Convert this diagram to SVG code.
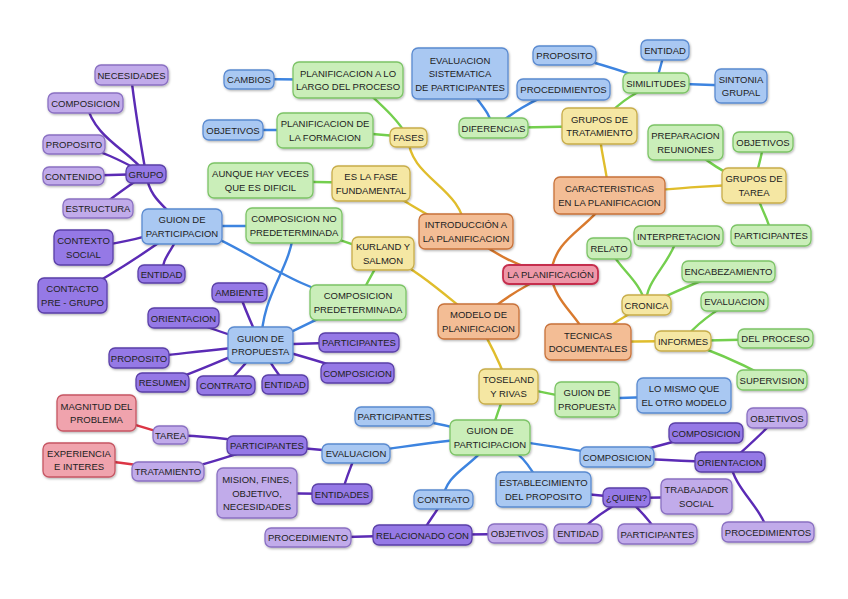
<svg xmlns="http://www.w3.org/2000/svg" width="848" height="599" viewBox="0 0 848 599">
<defs>
<filter id="sh" x="-10%" y="-10%" width="130%" height="140%"><feDropShadow dx="0.8" dy="1.2" stdDeviation="0.8" flood-color="#000" flood-opacity="0.3"/></filter>
<style>
rect{rx:6;ry:6;stroke-width:1.3;filter:url(#sh)}
.b rect{fill:#a9c8f2;stroke:#5a8ad0}
.g rect{fill:#caeeb9;stroke:#7cc466}
.y rect{fill:#f5e7a3;stroke:#c8ad4a}
.o rect{fill:#f3bd95;stroke:#c8723a}
.p rect{fill:#9579e6;stroke:#5a3fa8}
.lp rect{fill:#c1abea;stroke:#8a70c2}
.r rect{fill:#ee98a9;stroke:#c52e4e;stroke-width:1.8}
.pk rect{fill:#f0a3ad;stroke:#c65663}
text{font-family:"Liberation Sans",Arial,sans-serif;font-size:9.5px;fill:#222;text-anchor:middle}
#edges path{fill:none;stroke-width:2.4;stroke-linecap:round}
.eo{stroke:#d97a2e}.ey{stroke:#e0bd2c}.eg{stroke:#74cf4e}.eb{stroke:#3d84e0}.ep{stroke:#5b2bb5}.er{stroke:#dc3545}
</style>
</defs>
<rect x="0" y="0" width="848" height="599" fill="#ffffff" style="filter:none;rx:0"/>
<g id="edges">
<path class="eo" d="M551,274 C520,268 495,255 466,232"/>
<path class="eo" d="M551,274 C555,235 590,230 609,195"/>
<path class="eo" d="M551,274 C525,285 500,300 478,321"/>
<path class="eo" d="M551,274 C555,305 580,315 588,342"/>
<path class="ey" d="M466,232 C462,185 410,180 408,137"/>
<path class="ey" d="M466,232 C420,215 400,195 371,183"/>
<path class="ey" d="M609,195 C606,165 600,150 599,126"/>
<path class="ey" d="M609,195 C660,190 700,185 754,185"/>
<path class="ey" d="M588,342 C610,325 625,315 646,305"/>
<path class="ey" d="M588,342 L683,341"/>
<path class="ey" d="M478,321 C450,300 420,270 383,254"/>
<path class="ey" d="M478,321 C490,345 500,360 508,386"/>
<path class="eg" d="M408,137 C395,115 375,100 360,85"/>
<path class="eg" d="M408,137 L325,130"/>
<path class="eg" d="M371,183 L260,181"/>
<path class="eg" d="M599,126 L493,128"/>
<path class="eg" d="M599,126 C615,105 630,95 656,83"/>
<path class="eg" d="M754,185 C725,175 705,160 685,143"/>
<path class="eg" d="M754,185 C758,165 763,155 763,142"/>
<path class="eg" d="M754,185 C760,210 770,220 771,235"/>
<path class="eg" d="M646,305 C640,280 620,270 609,248"/>
<path class="eg" d="M646,305 C645,280 670,265 678,236"/>
<path class="eg" d="M646,305 C680,290 700,280 728,271"/>
<path class="eg" d="M683,341 C695,325 715,310 734,301"/>
<path class="eg" d="M683,341 L775,339"/>
<path class="eg" d="M683,341 C710,350 745,365 772,380"/>
<path class="eg" d="M383,254 C350,245 330,235 294,226"/>
<path class="eg" d="M383,254 C375,270 365,285 358,302"/>
<path class="eg" d="M508,386 C540,390 560,398 587,399"/>
<path class="eg" d="M508,386 C500,405 495,420 490,437"/>
<path class="eb" d="M348,80 L249,79"/>
<path class="eb" d="M325,130 L233,130"/>
<path class="eb" d="M493,128 C490,110 475,100 460,74"/>
<path class="eb" d="M493,128 C510,115 530,100 563,89"/>
<path class="eb" d="M656,83 C620,70 590,60 565,56"/>
<path class="eb" d="M656,83 L665,50"/>
<path class="eb" d="M656,83 L741,86"/>
<path class="eb" d="M294,226 L182,226"/>
<path class="eb" d="M294,226 C292,270 262,290 261,345"/>
<path class="eb" d="M182,226 C240,240 280,285 358,302"/>
<path class="eb" d="M358,302 C320,315 300,330 261,345"/>
<path class="eb" d="M587,399 L684,396"/>
<path class="eb" d="M490,437 C450,425 420,420 394,416"/>
<path class="eb" d="M490,437 C440,440 400,448 356,453"/>
<path class="eb" d="M490,437 C480,465 445,470 443,500"/>
<path class="eb" d="M490,437 C520,450 530,465 543,490"/>
<path class="eb" d="M490,437 C540,445 580,450 617,457"/>
<path class="ep" d="M182,226 C165,205 150,200 146,174"/>
<path class="ep" d="M182,226 C150,235 120,245 84,247"/>
<path class="ep" d="M182,226 C150,250 120,270 73,296"/>
<path class="ep" d="M182,226 C175,250 162,255 162,274"/>
<path class="ep" d="M146,174 C140,140 135,110 131,75"/>
<path class="ep" d="M146,174 C130,150 95,140 86,103"/>
<path class="ep" d="M146,174 C120,160 100,150 74,144"/>
<path class="ep" d="M146,174 L74,176"/>
<path class="ep" d="M146,174 C130,185 115,195 98,209"/>
<path class="ep" d="M261,345 C250,320 245,310 239,292"/>
<path class="ep" d="M261,345 C230,335 200,325 183,318"/>
<path class="ep" d="M261,345 C210,350 170,355 139,358"/>
<path class="ep" d="M261,345 C220,360 190,375 163,383"/>
<path class="ep" d="M261,345 C245,365 235,375 226,385"/>
<path class="ep" d="M261,345 C270,365 280,375 285,384"/>
<path class="ep" d="M261,345 L359,342"/>
<path class="ep" d="M261,345 C300,355 330,365 357,373"/>
<path class="ep" d="M356,453 C320,450 290,447 267,445"/>
<path class="ep" d="M356,453 C350,470 345,480 342,494"/>
<path class="ep" d="M267,445 C230,438 200,436 171,435"/>
<path class="ep" d="M267,445 C230,455 200,468 168,471"/>
<path class="ep" d="M342,494 L257,493"/>
<path class="ep" d="M443,500 C435,515 425,525 422,535"/>
<path class="ep" d="M422,535 L308,538"/>
<path class="ep" d="M422,535 L517,534"/>
<path class="ep" d="M543,490 L627,498"/>
<path class="ep" d="M627,498 L697,497"/>
<path class="ep" d="M627,498 C605,510 590,520 578,534"/>
<path class="ep" d="M627,498 C640,510 650,520 658,534"/>
<path class="ep" d="M617,457 C650,448 680,440 706,433"/>
<path class="ep" d="M617,457 C660,460 700,462 730,462"/>
<path class="ep" d="M730,462 C750,445 765,430 777,418"/>
<path class="ep" d="M730,462 C735,490 760,505 768,532"/>
<path class="er" d="M171,435 C150,430 120,420 96,413"/>
<path class="er" d="M168,471 C140,465 110,460 79,460"/>
</g>
<g id="root" class="r"><rect x="503" y="265" width="95" height="19"/><text x="550.5" y="278">LA PLANIFICACIÓN</text></g>
<g id="intro" class="o"><rect x="419" y="214" width="94" height="35"/><text><tspan x="466" y="228.2">INTRODUCCIÓN A</tspan><tspan x="466" y="241.7">LA PLANIFICACION</tspan></text></g>
<g id="caract" class="o"><rect x="554" y="177" width="111" height="37"/><text><tspan x="609.5" y="192.2">CARACTERISTICAS</tspan><tspan x="609.5" y="205.7">EN LA PLANIFICACION</tspan></text></g>
<g id="modelo" class="o"><rect x="438" y="304" width="81" height="35"/><text><tspan x="478.5" y="318.2">MODELO DE</tspan><tspan x="478.5" y="331.7">PLANIFICACION</tspan></text></g>
<g id="tecnicas" class="o"><rect x="545" y="324" width="86" height="36"/><text><tspan x="588" y="338.7">TECNICAS</tspan><tspan x="588" y="352.2">DOCUMENTALES</tspan></text></g>
<g id="fases" class="y"><rect x="390" y="128" width="37" height="19"/><text x="408.5" y="141">FASES</text></g>
<g id="eslafase" class="y"><rect x="332" y="166" width="78" height="35"/><text><tspan x="371" y="180.2">ES LA FASE</tspan><tspan x="371" y="193.7">FUNDAMENTAL</tspan></text></g>
<g id="planlargo" class="g"><rect x="293" y="62" width="110" height="36"/><text><tspan x="348" y="76.7">PLANIFICACION A LO</tspan><tspan x="348" y="90.2">LARGO DEL PROCESO</tspan></text></g>
<g id="planform" class="g"><rect x="277" y="113" width="96" height="35"/><text><tspan x="325" y="127.2">PLANIFICACION DE</tspan><tspan x="325" y="140.7">LA FORMACION</tspan></text></g>
<g id="cambios" class="b"><rect x="224" y="70" width="50" height="19"/><text x="249" y="83">CAMBIOS</text></g>
<g id="objL" class="b"><rect x="203" y="120" width="60" height="20"/><text x="233" y="133.5">OBJETIVOS</text></g>
<g id="aunque" class="g"><rect x="208" y="163" width="105" height="35"/><text><tspan x="260.5" y="177.2">AUNQUE HAY VECES</tspan><tspan x="260.5" y="190.7">QUE ES DIFICIL</tspan></text></g>
<g id="evalsist" class="b"><rect x="412" y="48" width="96" height="51"/><text><tspan x="460" y="63.5">EVALUACION</tspan><tspan x="460" y="77">SISTEMATICA</tspan><tspan x="460" y="90.5">DE PARTICIPANTES</tspan></text></g>
<g id="diferencias" class="g"><rect x="459" y="118" width="69" height="20"/><text x="493.5" y="131.5">DIFERENCIAS</text></g>
<g id="procT" class="b"><rect x="517" y="79" width="93" height="21"/><text x="563.5" y="93">PROCEDIMIENTOS</text></g>
<g id="gtrat" class="y"><rect x="562" y="108" width="75" height="36"/><text><tspan x="599.5" y="122.7">GRUPOS DE</tspan><tspan x="599.5" y="136.2">TRATAMIENTO</tspan></text></g>
<g id="similitudes" class="g"><rect x="623" y="73" width="66" height="20"/><text x="656" y="86.5">SIMILITUDES</text></g>
<g id="propT" class="b"><rect x="533" y="46" width="63" height="19"/><text x="564.5" y="59">PROPOSITO</text></g>
<g id="entT" class="b"><rect x="641" y="40" width="48" height="20"/><text x="665" y="53.5">ENTIDAD</text></g>
<g id="sintonia" class="b"><rect x="715" y="69" width="52" height="34"/><text><tspan x="741" y="82.7">SINTONIA</tspan><tspan x="741" y="96.2">GRUPAL</tspan></text></g>
<g id="gtarea" class="y"><rect x="722" y="168" width="64" height="35"/><text><tspan x="754" y="182.2">GRUPOS DE</tspan><tspan x="754" y="195.7">TAREA</tspan></text></g>
<g id="prepar" class="g"><rect x="648" y="125" width="75" height="35"/><text><tspan x="685.5" y="139.2">PREPARACION</tspan><tspan x="685.5" y="152.7">REUNIONES</tspan></text></g>
<g id="objR" class="g"><rect x="733" y="132" width="60" height="20"/><text x="763" y="145.5">OBJETIVOS</text></g>
<g id="partR" class="g"><rect x="731" y="225" width="80" height="21"/><text x="771" y="239">PARTICIPANTES</text></g>
<g id="cronica" class="y"><rect x="622" y="295" width="49" height="20"/><text x="646.5" y="308.5">CRONICA</text></g>
<g id="relato" class="g"><rect x="587" y="238" width="44" height="21"/><text x="609" y="252">RELATO</text></g>
<g id="interp" class="g"><rect x="634" y="226" width="89" height="20"/><text x="678.5" y="239.5">INTERPRETACION</text></g>
<g id="encab" class="g"><rect x="682" y="261" width="93" height="21"/><text x="728.5" y="275">ENCABEZAMIENTO</text></g>
<g id="informes" class="y"><rect x="655" y="331" width="56" height="20"/><text x="683" y="344.5">INFORMES</text></g>
<g id="evalR" class="g"><rect x="701" y="292" width="67" height="19"/><text x="734.5" y="305">EVALUACION</text></g>
<g id="delproc" class="g"><rect x="738" y="329" width="75" height="19"/><text x="775.5" y="342">DEL PROCESO</text></g>
<g id="superv" class="g"><rect x="737" y="370" width="70" height="20"/><text x="772" y="383.5">SUPERVISION</text></g>
<g id="kurland" class="y"><rect x="352" y="237" width="62" height="33"/><text><tspan x="383" y="250.2">KURLAND Y</tspan><tspan x="383" y="263.7">SALMON</tspan></text></g>
<g id="compnopred" class="g"><rect x="246" y="208" width="96" height="35"/><text><tspan x="294" y="222.2">COMPOSICION NO</tspan><tspan x="294" y="235.7">PREDETERMINADA</tspan></text></g>
<g id="comppred" class="g"><rect x="310" y="285" width="96" height="35"/><text><tspan x="358" y="299.2">COMPOSICION</tspan><tspan x="358" y="312.7">PREDETERMINADA</tspan></text></g>
<g id="guionpartL" class="b"><rect x="142" y="209" width="80" height="35"/><text><tspan x="182" y="223.2">GUION DE</tspan><tspan x="182" y="236.7">PARTICIPACION</tspan></text></g>
<g id="grupo" class="p"><rect x="126" y="165" width="40" height="18"/><text x="146" y="177.5">GRUPO</text></g>
<g id="necesidades" class="lp"><rect x="95" y="65" width="73" height="20"/><text x="131.5" y="78.5">NECESIDADES</text></g>
<g id="compTL" class="lp"><rect x="48" y="93" width="75" height="20"/><text x="85.5" y="106.5">COMPOSICION</text></g>
<g id="propL" class="lp"><rect x="43" y="135" width="62" height="19"/><text x="74" y="148">PROPOSITO</text></g>
<g id="contenido" class="lp"><rect x="43" y="167" width="61" height="18"/><text x="73.5" y="179.5">CONTENIDO</text></g>
<g id="estructura" class="lp"><rect x="63" y="199" width="70" height="19"/><text x="98" y="212">ESTRUCTURA</text></g>
<g id="contexto" class="p"><rect x="54" y="230" width="59" height="35"/><text><tspan x="83.5" y="244.2">CONTEXTO</tspan><tspan x="83.5" y="257.7">SOCIAL</tspan></text></g>
<g id="contacto" class="p"><rect x="38" y="278" width="69" height="35"/><text><tspan x="72.5" y="292.2">CONTACTO</tspan><tspan x="72.5" y="305.7">PRE - GRUPO</tspan></text></g>
<g id="entidadL" class="p"><rect x="138" y="265" width="47" height="18"/><text x="161.5" y="277.5">ENTIDAD</text></g>
<g id="guionpropL" class="b"><rect x="228" y="327" width="65" height="36"/><text><tspan x="260.5" y="341.7">GUION DE</tspan><tspan x="260.5" y="355.2">PROPUESTA</tspan></text></g>
<g id="ambiente" class="p"><rect x="212" y="283" width="55" height="19"/><text x="239.5" y="296">AMBIENTE</text></g>
<g id="orientL" class="p"><rect x="148" y="308" width="71" height="20"/><text x="183.5" y="321.5">ORIENTACION</text></g>
<g id="propLL" class="p"><rect x="109" y="348" width="60" height="20"/><text x="139" y="361.5">PROPOSITO</text></g>
<g id="resumen" class="p"><rect x="136" y="373" width="53" height="19"/><text x="162.5" y="386">RESUMEN</text></g>
<g id="contratoL" class="p"><rect x="197" y="376" width="58" height="19"/><text x="226" y="389">CONTRATO</text></g>
<g id="entidadLL" class="p"><rect x="262" y="375" width="46" height="19"/><text x="285" y="388">ENTIDAD</text></g>
<g id="partP" class="p"><rect x="319" y="333" width="80" height="19"/><text x="359" y="346">PARTICIPANTES</text></g>
<g id="compP" class="p"><rect x="321" y="363" width="73" height="20"/><text x="357.5" y="376.5">COMPOSICION</text></g>
<g id="toseland" class="y"><rect x="479" y="369" width="59" height="35"/><text><tspan x="508.5" y="383.2">TOSELAND</tspan><tspan x="508.5" y="396.7">Y RIVAS</tspan></text></g>
<g id="guionpropR" class="g"><rect x="555" y="382" width="64" height="35"/><text><tspan x="587" y="396.2">GUION DE</tspan><tspan x="587" y="409.7">PROPUESTA</tspan></text></g>
<g id="lomismo" class="b"><rect x="637" y="378" width="94" height="35"/><text><tspan x="684" y="392.2">LO MISMO QUE</tspan><tspan x="684" y="405.7">EL OTRO MODELO</tspan></text></g>
<g id="guionpartC" class="g"><rect x="450" y="420" width="80" height="35"/><text><tspan x="490" y="434.2">GUION DE</tspan><tspan x="490" y="447.7">PARTICIPACION</tspan></text></g>
<g id="partBC" class="b"><rect x="355" y="407" width="79" height="19"/><text x="394.5" y="420">PARTICIPANTES</text></g>
<g id="evalB" class="b"><rect x="322" y="444" width="68" height="19"/><text x="356" y="457">EVALUACION</text></g>
<g id="contratoC" class="b"><rect x="414" y="490" width="59" height="19"/><text x="443.5" y="503">CONTRATO</text></g>
<g id="establec" class="b"><rect x="496" y="472" width="95" height="35"/><text><tspan x="543.5" y="486.2">ESTABLECIMIENTO</tspan><tspan x="543.5" y="499.7">DEL PROPOSITO</tspan></text></g>
<g id="compB" class="b"><rect x="580" y="447" width="74" height="20"/><text x="617" y="460.5">COMPOSICION</text></g>
<g id="partPL" class="p"><rect x="227" y="436" width="80" height="19"/><text x="267" y="449">PARTICIPANTES</text></g>
<g id="tarea" class="lp"><rect x="153" y="426" width="35" height="18"/><text x="170.5" y="438.5">TAREA</text></g>
<g id="tratamiento" class="lp"><rect x="132" y="462" width="72" height="19"/><text x="168" y="475">TRATAMIENTO</text></g>
<g id="magnitud" class="pk"><rect x="57" y="395" width="79" height="36"/><text><tspan x="96.5" y="409.7">MAGNITUD DEL</tspan><tspan x="96.5" y="423.2">PROBLEMA</tspan></text></g>
<g id="experiencia" class="pk"><rect x="43" y="443" width="72" height="34"/><text><tspan x="79" y="456.7">EXPERIENCIA</tspan><tspan x="79" y="470.2">E INTERES</tspan></text></g>
<g id="entidades" class="p"><rect x="312" y="484" width="60" height="20"/><text x="342" y="497.5">ENTIDADES</text></g>
<g id="mision" class="lp"><rect x="217" y="468" width="80" height="50"/><text><tspan x="257" y="483">MISION, FINES,</tspan><tspan x="257" y="496.5">OBJETIVO,</tspan><tspan x="257" y="510">NECESIDADES</tspan></text></g>
<g id="relacionado" class="p"><rect x="373" y="525" width="99" height="20"/><text x="422.5" y="538.5">RELACIONADO CON</text></g>
<g id="procedimiento" class="lp"><rect x="265" y="528" width="86" height="19"/><text x="308" y="541">PROCEDIMIENTO</text></g>
<g id="objB" class="lp"><rect x="488" y="524" width="59" height="19"/><text x="517.5" y="537">OBJETIVOS</text></g>
<g id="quien" class="p"><rect x="603" y="488" width="47" height="19"/><text x="626.5" y="501">¿QUIEN?</text></g>
<g id="trabajador" class="lp"><rect x="661" y="479" width="71" height="35"/><text><tspan x="696.5" y="493.2">TRABAJADOR</tspan><tspan x="696.5" y="506.7">SOCIAL</tspan></text></g>
<g id="entidadB" class="lp"><rect x="554" y="524" width="48" height="19"/><text x="578" y="537">ENTIDAD</text></g>
<g id="partB" class="lp"><rect x="618" y="524" width="79" height="20"/><text x="657.5" y="537.5">PARTICIPANTES</text></g>
<g id="compDP" class="p"><rect x="669" y="423" width="74" height="20"/><text x="706" y="436.5">COMPOSICION</text></g>
<g id="orientR" class="p"><rect x="695" y="452" width="70" height="20"/><text x="730" y="465.5">ORIENTACION</text></g>
<g id="objRR" class="lp"><rect x="747" y="408" width="60" height="20"/><text x="777" y="421.5">OBJETIVOS</text></g>
<g id="procRR" class="lp"><rect x="722" y="522" width="92" height="20"/><text x="768" y="535.5">PROCEDIMIENTOS</text></g>
</svg>
